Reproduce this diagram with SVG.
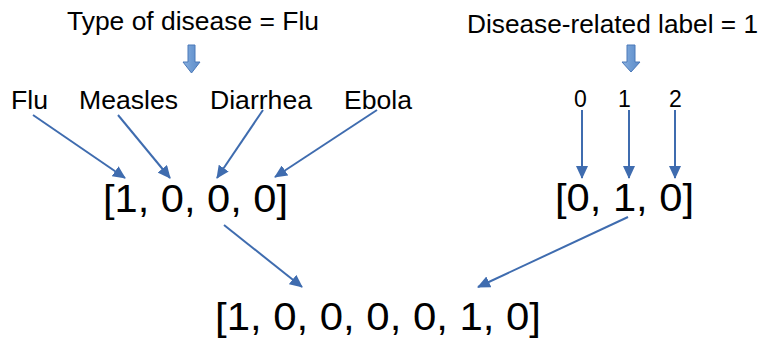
<svg xmlns="http://www.w3.org/2000/svg" width="763" height="341" viewBox="0 0 763 341">
  <style>
    text { font-family: "Liberation Sans", Arial, sans-serif; fill: #000; }
    .title { font-size: 26px; }
    .label { font-size: 25px; }
    .idx { font-size: 23px; }
    .vec { font-size: 38px; }
    .conn line { stroke: #3F6CAF; stroke-width: 2; marker-end: url(#head); }
    .block { fill: url(#blockFill); stroke: #4A78B8; stroke-width: 1; }
  </style>
  <defs>
    <marker id="head" markerUnits="userSpaceOnUse" markerWidth="14" markerHeight="12" refX="12" refY="6" orient="auto">
      <path d="M0,0 L13,6 L0,12 Z" fill="#3F6CAF"/>
    </marker>
    <linearGradient id="blockFill" x1="0" y1="0" x2="1" y2="0">
      <stop offset="0" stop-color="#8CB2E0"/>
      <stop offset="0.5" stop-color="#6E9BD3"/>
      <stop offset="1" stop-color="#5E8CC8"/>
    </linearGradient>
  </defs>

  <!-- disease type section -->
  <g id="disease-type">
    <text class="title" x="67" y="30" textLength="252" lengthAdjust="spacingAndGlyphs">Type of disease = Flu</text>
    <path class="block" d="M188,45 H195 V62 H200 L191.5,73 L183,62 H188 Z"/>
  </g>
  <g id="label-flu"><text class="label" x="11" y="109" textLength="37" lengthAdjust="spacingAndGlyphs">Flu</text></g>
  <g id="label-measles"><text class="label" x="79" y="109" textLength="99" lengthAdjust="spacingAndGlyphs">Measles</text></g>
  <g id="label-diarrhea"><text class="label" x="210" y="109" textLength="102" lengthAdjust="spacingAndGlyphs">Diarrhea</text></g>
  <g id="label-ebola"><text class="label" x="344" y="109" textLength="68" lengthAdjust="spacingAndGlyphs">Ebola</text></g>
  <g id="vec-disease"><text class="vec" x="103" y="212" textLength="185" lengthAdjust="spacingAndGlyphs">[1, 0, 0, 0]</text></g>

  <!-- disease-related label section -->
  <g id="related-label">
    <text class="title" x="467" y="33" textLength="291" lengthAdjust="spacingAndGlyphs">Disease-related label = 1</text>
    <path class="block" d="M627,45 H635 V62 H640 L631,72 L622,62 H627 Z"/>
  </g>
  <g id="idx-0"><text class="idx" x="574" y="107">0</text></g>
  <g id="idx-1"><text class="idx" x="618" y="107">1</text></g>
  <g id="idx-2"><text class="idx" x="669" y="107">2</text></g>
  <g id="vec-related"><text class="vec" x="555" y="211" textLength="139" lengthAdjust="spacingAndGlyphs">[0, 1, 0]</text></g>

  <!-- combined vector -->
  <g id="vec-combined"><text class="vec" x="215" y="330" textLength="326" lengthAdjust="spacingAndGlyphs">[1, 0, 0, 0, 0, 1, 0]</text></g>

  <g id="connectors" class="conn">
    <line x1="33" y1="115" x2="125" y2="178"/>
    <line x1="118" y1="115" x2="170" y2="178"/>
    <line x1="263" y1="110" x2="217" y2="178"/>
    <line x1="377" y1="110" x2="275" y2="177"/>
    <line x1="582" y1="110" x2="582" y2="178"/>
    <line x1="629" y1="110" x2="629" y2="178"/>
    <line x1="675" y1="110" x2="675" y2="178"/>
    <line x1="224" y1="225" x2="302" y2="287"/>
    <line x1="628" y1="217" x2="478" y2="287"/>
  </g>
</svg>
